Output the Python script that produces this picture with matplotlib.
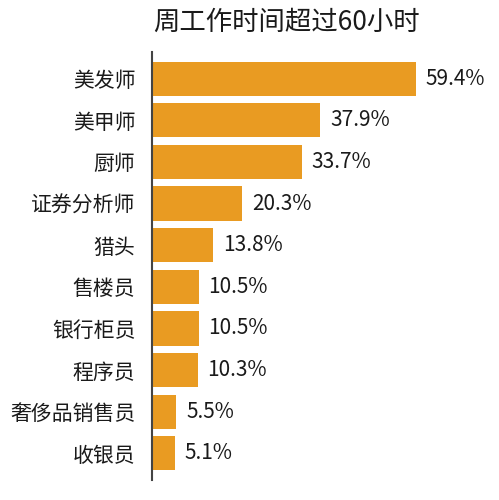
import numpy as np
import matplotlib
matplotlib.use("Agg")
import matplotlib.pyplot as plt

plt.rcParams['font.family'] = ['Noto Sans CJK SC', 'DejaVu Sans']

# occupations and share working over 60 hours a week (%)
jobs = ["美发师", "美甲师", "厨师", "证券分析师", "猎头",
        "售楼员", "银行柜员", "程序员", "奢侈品销售员", "收银员"]
share = [59.4, 37.9, 33.7, 20.3, 13.8, 10.5, 10.5, 10.3, 5.5, 5.1]

bar_color = "#E99B22"
text_color = "#1a1a1a"

fig = plt.figure(figsize=(4.99, 5.0), dpi=100)
ax = fig.add_axes([152 / 499, 0.04, (490 - 152) / 499, 0.856])

y = np.arange(len(jobs))
ax.barh(y, share, height=0.82, color=bar_color)

for yi, v in zip(y, share):
    ax.text(v + 2.2, yi, f"{v}%", va="center", ha="left",
            fontsize=15, color=text_color)

ax.set_xlim(0, (490 - 152) / 4.44)
ax.set_ylim(9.64, -0.64)
ax.set_yticks(y)
ax.set_yticklabels(jobs, fontsize=15, color=text_color)
ax.tick_params(axis="y", length=0, pad=12)
ax.set_xticks([])

for s in ["top", "right", "bottom"]:
    ax.spines[s].set_visible(False)
ax.spines["left"].set_color("#444444")
ax.spines["left"].set_linewidth(1.5)

fig.text(286 / 499, 1 - 22 / 500, "周工作时间超过60小时", ha="center", va="center",
         fontsize=19, color=text_color)

fig.savefig("out.png", dpi=100)
